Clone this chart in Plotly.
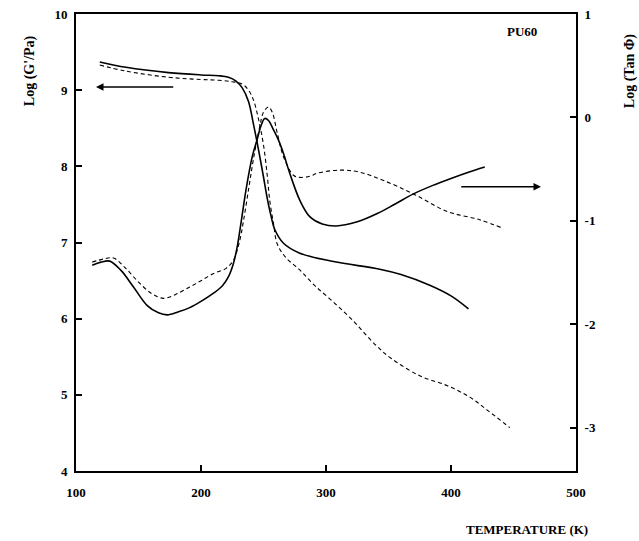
import plotly.graph_objects as go

# Storage modulus G' (left axis, log G'/Pa)
T_g_solid = [119, 140, 174, 200, 214, 222, 228, 233, 238, 242, 246, 250, 253, 256, 259, 266, 279, 306, 343, 360, 383, 400, 414]
G_solid = [9.37, 9.30, 9.23, 9.20, 9.19, 9.17, 9.12, 9.03, 8.85, 8.55, 8.22, 7.86, 7.58, 7.35, 7.17, 6.99, 6.86, 6.75, 6.65, 6.58, 6.44, 6.30, 6.13]

T_g_dash = [119, 140, 174, 200, 214, 225, 233, 238, 242, 246, 250, 253, 255, 258, 261, 268, 279, 290, 303, 320, 340, 352, 375, 397, 415, 429, 447]
G_dash = [9.33, 9.25, 9.17, 9.14, 9.13, 9.11, 9.08, 9.00, 8.87, 8.62, 8.28, 7.88, 7.55, 7.25, 6.98, 6.80, 6.64, 6.45, 6.26, 6.00, 5.65, 5.48, 5.25, 5.12, 4.97, 4.80, 4.57]

# Loss tangent (right axis, log tan phi)
T_t_solid = [113, 120, 127, 136, 146, 157, 166, 173, 182, 191, 200, 210, 217, 222, 226, 229, 232, 236, 241, 245, 248, 251, 254, 258, 262, 266, 271, 279, 287, 297, 308, 325, 341, 355, 370, 385, 400, 414, 427]
Tan_solid = [-1.43, -1.40, -1.39, -1.48, -1.64, -1.82, -1.89, -1.91, -1.88, -1.84, -1.78, -1.70, -1.63, -1.54, -1.41, -1.25, -1.02, -0.70, -0.38, -0.21, -0.08, -0.01, -0.03, -0.12, -0.22, -0.35, -0.54, -0.80, -0.96, -1.03, -1.05, -1.01, -0.93, -0.84, -0.74, -0.66, -0.59, -0.53, -0.48]

T_t_dash = [113, 122, 130, 139, 149, 160, 170, 180, 191, 200, 210, 220, 226, 231, 234, 238, 242, 247, 250, 254, 257, 261, 266, 274, 279, 287, 293, 311, 327, 346, 370, 397, 423, 441]
Tan_dash = [-1.40, -1.37, -1.36, -1.45, -1.58, -1.70, -1.75, -1.71, -1.64, -1.58, -1.51, -1.46, -1.38, -1.19, -1.00, -0.70, -0.40, -0.09, 0.05, 0.10, 0.05, -0.15, -0.38, -0.56, -0.58, -0.57, -0.54, -0.51, -0.53, -0.61, -0.74, -0.91, -0.99, -1.07]

x_ticks = [100, 200, 300, 400, 500]
yl_ticks = [4, 5, 6, 7, 8, 9, 10]
yr_ticks = [-3, -2, -1, 0, 1]

FONT = "Liberation Serif"

fig = go.Figure()
fig.add_trace(go.Scatter(x=T_g_solid, y=G_solid, mode="lines", line=dict(color="black", width=1.6, shape="spline", smoothing=1.0)))
fig.add_trace(go.Scatter(x=T_g_dash, y=G_dash, mode="lines", line=dict(color="black", width=1.1, dash="4px,3px", shape="spline", smoothing=1.0)))
fig.add_trace(go.Scatter(x=T_t_solid, y=Tan_solid, mode="lines", yaxis="y2", line=dict(color="black", width=1.6, shape="spline", smoothing=1.0)))
fig.add_trace(go.Scatter(x=T_t_dash, y=Tan_dash, mode="lines", yaxis="y2", line=dict(color="black", width=1.1, dash="4px,3px", shape="spline", smoothing=1.0)))

tickfont = dict(family=FONT, size=13, color="black")
fig.update_layout(
    width=639, height=541,
    margin=dict(l=76, r=63, t=14, b=70),
    paper_bgcolor="white", plot_bgcolor="white",
    showlegend=False,
    font=dict(family=FONT, color="black"),
    xaxis=dict(range=[100, 500], tickvals=x_ticks, ticktext=["<b>%d</b>" % v for v in x_ticks],
               ticks="inside", ticklen=6, tickwidth=1.5, tickcolor="black",
               showline=True, linecolor="black", linewidth=2, mirror=True, automargin=False,
               showgrid=False, zeroline=False, tickfont=tickfont, ticklabelstandoff=8),
    yaxis=dict(range=[4, 10], tickvals=yl_ticks, ticktext=["<b>%d</b>" % v for v in yl_ticks],
               ticks="inside", ticklen=6, tickwidth=1.5, tickcolor="black", automargin=False,
               showline=True, linecolor="black", linewidth=2,
               showgrid=False, zeroline=False, tickfont=tickfont, ticklabelstandoff=4),
    yaxis2=dict(range=[-3.42, 1], overlaying="y", side="right", tickvals=yr_ticks,
                ticktext=["<b>%d</b>" % v for v in yr_ticks], automargin=False,
                ticks="inside", ticklen=6, tickwidth=1.5, tickcolor="black",
                showline=True, linecolor="black", linewidth=2,
                showgrid=False, zeroline=False, tickfont=tickfont, ticklabelstandoff=4),
)

common = dict(xref="paper", yref="paper", showarrow=False, xanchor="center", yanchor="middle")
annots = [
    dict(text="<b>Log (G'/Pa)</b>", x=-0.092, y=0.875, textangle=-90,
         font=dict(family=FONT, size=14), **common),
    dict(text="<b>Log (Tan Φ)</b>", x=1.108, y=0.875, textangle=-90,
         font=dict(family=FONT, size=14), **common),
    dict(text="<b>TEMPERATURE (K)</b>", x=0.902, y=-0.129,
         font=dict(family=FONT, size=13), **common),
    dict(text="<b>PU60</b>", x=0.892, y=0.961,
         font=dict(family=FONT, size=13), **common),
    dict(x=116, y=9.04, ax=179, ay=9.04, xref="x", yref="y", axref="x", ayref="y",
         text="", showarrow=True, arrowhead=2, arrowsize=1, arrowwidth=1.5, arrowcolor="black"),
    dict(x=472, y=-0.67, ax=407, ay=-0.67, xref="x", yref="y2", axref="x", ayref="y2",
         text="", showarrow=True, arrowhead=2, arrowsize=1, arrowwidth=1.5, arrowcolor="black"),
]
fig.update_layout(annotations=annots)

fig.write_html("out.html", config={"displayModeBar": False},
               post_script="document.body.style.margin='0';document.body.style.overflow='hidden';")
